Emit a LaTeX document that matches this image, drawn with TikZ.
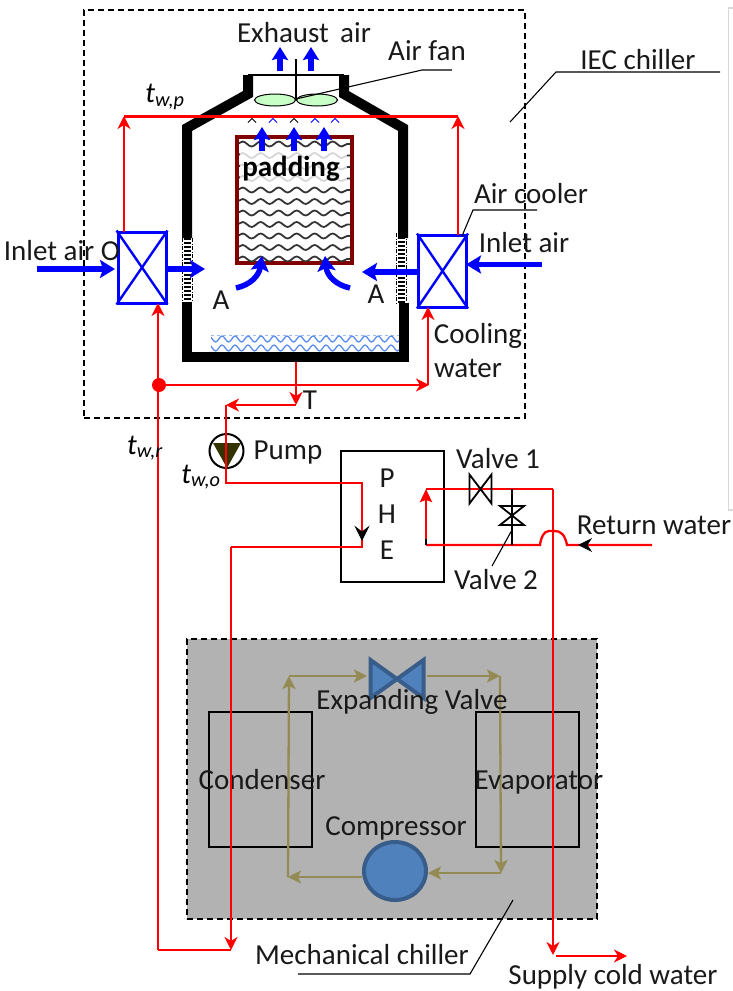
\documentclass[tikz,border=0pt]{standalone}
\usepackage{fontspec}
\setmainfont{Carlito}
\usetikzlibrary{arrows.meta,decorations.pathmorphing,shapes.geometric}
\definecolor{wred}{RGB}{255,0,0}
\definecolor{airblue}{RGB}{0,0,255}
\definecolor{padred}{RGB}{128,0,0}
\definecolor{olive}{RGB}{148,138,84}
\definecolor{chgray}{RGB}{178,178,178}
\definecolor{sblue}{RGB}{79,129,189}
\definecolor{dblue}{RGB}{56,93,138}
\definecolor{wave}{RGB}{90,140,240}
\definecolor{pumpfill}{RGB}{51,51,0}
\tikzset{
 lab/.style={inner sep=0pt,font=\fontsize{29}{31}\selectfont,text=black!90},
 sym/.style={inner sep=0pt,font=\itshape\fontsize{29}{31}\selectfont},
 redline/.style={draw=wred,line width=2.3pt},
 redarrow/.style={redline,-{Stealth[length=13pt,width=13pt,inset=4pt]}},
 airarrow/.style={draw=airblue,line width=5.5pt,-{Stealth[length=15pt,width=18pt,inset=3pt]}},
 smallair/.style={draw=airblue,line width=5.5pt,-{Stealth[length=13pt,width=16pt,inset=2pt]}},
 cooler/.style={draw=airblue,line width=3pt,fill=white,minimum width=48pt,minimum height=71pt,inner sep=0pt},
 wall/.style={draw=black,line width=10pt,line join=miter,line cap=butt},
 cyc/.style={draw=olive,line width=2.3pt,-{Stealth[length=13pt,width=13pt,inset=3pt]}},
 leader/.style={draw=black,line width=1.1pt},
 dashbox/.style={draw=black,line width=1.3pt,dash pattern=on 6pt off 4pt},
 plainbox/.style={draw=black,line width=1.8pt,inner sep=0pt},
 wavy/.style={decorate,decoration={snake,amplitude=2.5pt,segment length=18pt}},
 wavelet/.style={decorate,decoration={snake,amplitude=3pt,segment length=13pt}},
 fanblade/.style={draw=black,fill=green!22,line width=1pt,ellipse,minimum width=41pt,minimum height=12pt,inner sep=0pt},
}
\begin{document}
\begin{tikzpicture}[x=1pt,y=-1pt]
\useasboundingbox (0,0) rectangle (733,991);
\fill[white] (0,0) rectangle (733,991);
% pale frame at right
\draw[black!15,line width=1.5pt] (733,8) -- (728.5,8) -- (728.5,510) -- (733,510);
% mechanical chiller
\node[dashbox,fill=chgray,minimum width=410pt,minimum height=280pt,inner sep=0pt] (mech) at (392,779) {};
\node[plainbox,minimum width=103pt,minimum height=135pt] (cond) at (260.5,779.5) {};
\node[plainbox,minimum width=103pt,minimum height=135pt] (evap) at (527.5,779.5) {};
\coordinate (c1) at (289,676);\coordinate (c2) at (367,676);\coordinate (c3) at (427,676);\coordinate (c4) at (500,676);
\coordinate (c5) at (501,873);\coordinate (c6) at (428,873);\coordinate (c7) at (362,877);\coordinate (c8) at (288,877);
\draw[cyc] (c1)--(c2);\draw[cyc] (c3)--(c4);\draw[cyc] (c4)--(c5);\draw[cyc] (c5)--(c6);\draw[cyc] (c7)--(c8);\draw[cyc] (c8)--(c1);
\draw[draw=dblue,fill=sblue,line width=4pt,line join=miter] (370.5,660)--(423.5,698)--(423.5,660)--(370.5,698)--cycle;
\node[draw=dblue,fill=sblue,line width=4pt,ellipse,minimum width=62pt,minimum height=58pt,inner sep=0pt] (comp) at (395,871) {};
\node[lab] (tcond) at (262,780) {Condenser};
\node[lab] (tevap) at (539,783) {Evaporator};
\node[lab] (tcomp) at (396,828) {Compressor};
\node[lab] (texp) at (412,702) {Expanding Valve};
% IEC box
\node[dashbox,minimum width=441pt,minimum height=408pt,inner sep=0pt] (iec) at (304.5,214) {};
% tower
\draw[wall] (248,75)--(248,94)--(187,128)--(187,238);
\draw[wall] (344,75)--(344,94)--(403,128)--(403,238);
\draw[black,line width=1.2pt] (248,75)--(344,75);
\draw[wall,line join=miter] (187,302)--(187,357)--(404,357)--(404,303);
% louvers
\foreach \xx/\ya/\yb in {187/238/302,401/233/305}{
  \draw[black,line width=7pt,dash pattern=on 2pt off 2pt] (\xx,\ya)--(\xx,\yb);
  \draw[black,line width=.8pt,dash pattern=on 4pt off 1.5pt on 1pt off 1.5pt] (\xx-5,\ya)--(\xx-5,\yb);
  \draw[black,line width=.8pt,dash pattern=on 4pt off 1.5pt on 1pt off 1.5pt] (\xx+5,\ya)--(\xx+5,\yb);
}
% water waves
\begin{scope}
\clip (211,334) rectangle (399,352);
\draw[wave!60,line width=.8pt,dashed] (211,335)--(399,335);
\foreach \yy in {339,348}{
 \draw[wave,line width=1.3pt,wavelet] (205,\yy)--(405,\yy);
}
\end{scope}
% padding
\node[draw=padred,line width=3.5pt,minimum width=115pt,minimum height=126pt,inner sep=0pt,fill=white] (pad) at (294.5,200) {};
\begin{scope}
\clip (239,139) rectangle (350.5,261.5);
\foreach \yy in {144,155.5,167,178.5,190,201.5,213,224.5,236,247.5,259}{
 \draw[black!80,line width=1.8pt,wavy] (237,\yy)--(355,\yy);
}
\end{scope}
\fill[white,opacity=.8] (240,152) rectangle (347,184);
\node[inner sep=0pt,font=\bfseries\fontsize{29}{31}\selectfont] (tpad) at (291,169) {padding};
% fan
\node[fanblade] (fanL) at (275,100) {};
\node[fanblade] (fanR) at (317,100) {};
\draw[black,line width=2pt] (296,59)--(296,101);
\coordinate (fl1) at (296,99);\coordinate (fl2) at (422,70);\coordinate (fl3) at (452,70);
\draw[leader] (fl1)--(fl2)--(fl3);
\draw[smallair] (280,71)--(280,47);\draw[smallair] (311,71)--(311,47);
\foreach \xx in {262,294,324}{\draw[smallair] (\xx,151)--(\xx,127);}
\foreach \xx/\cc in {252/black,273/airblue,294/black,315/airblue,335/airblue}{
  \draw[\cc,line width=1pt] (\xx-4,122.5)--(\xx,118.5)--(\xx+4,122.5);}
% coolers
\node[cooler] (cl) at (142,267.5) {};
\draw[airblue,line width=2.4pt] (cl.north west)--(cl.south east) (cl.north east)--(cl.south west);
\node[cooler,minimum height=72pt] (cr) at (442.5,271) {};
\draw[airblue,line width=2.4pt] (cr.north west)--(cr.south east) (cr.north east)--(cr.south west);
% red upper loop
\coordinate (a1) at (124,116);\coordinate (a2) at (458,116);
\draw[wred,line width=3pt] (a1)--(a2);
\draw[redarrow] (124,232)--(a1);
\draw[redarrow] (458,235)--(a2);
% air
\coordinate (ia1) at (37,269);\coordinate (ia2) at (115,269);
\draw[airarrow] (ia1)--(ia2);
\draw[airarrow] (166,269)--(205,269);
\draw[airarrow] (542,264.5)--(466,264.5);
\draw[airarrow] (419,272)--(362,272);
\draw[airarrow] (236,288) .. controls (250,285) and (259,276) .. (262,256);
\draw[airarrow] (350,288) .. controls (336,285) and (327,276) .. (325,256);
% red lower
\coordinate (dot) at (159,385);
\draw[redarrow] (158,950)--(158,303);
\fill[wred] (dot) circle (7pt);
\coordinate (h1) at (429,385);
\draw[redarrow] (dot)--(h1);
\draw[redarrow] (428,385)--(428,307);
\coordinate (t1) at (296,362);\coordinate (t2) at (296,405);\coordinate (t3) at (226,405);
\draw[redarrow] (t1)--(t2);
\draw[redarrow] (t2)--(t3);
% pump
\node[draw=black,line width=2pt,fill=white,shape=circle,minimum size=34pt,inner sep=0pt] (pump) at (226.5,451) {};
\fill[pumpfill] (213,443)--(241,443)--(227,468)--cycle;
\node[plainbox,minimum width=103pt,minimum height=131pt] (phe) at (392.5,516.5) {};
\coordinate (r1) at (362,483);\coordinate (r2) at (362,547);\coordinate (r3) at (231,547);\coordinate (r5) at (158,950);
\draw[redline] (226,405)--(226,483)--(r1)--(r2)--(r3);
\draw[redarrow] (r3)--(231,950);
\draw[redline] (r5)--(231,950);
\draw[black,line width=.8pt,fill=black] (355.5,527)--(362,540)--(368.5,527)--(362,532)--cycle;
% return
\coordinate (w0) at (652,545);\coordinate (w1) at (567,545);\coordinate (w2) at (426,545);\coordinate (w3) at (426,489);\coordinate (w4) at (553,489);\coordinate (w5) at (553,955);
\draw[redline] (w0)--(w1) .. controls (565,535) and (561,531) .. (555,531) -- (549,531) .. controls (544,531) and (541,537) .. (540,545)--(w2);
\draw[wred,line width=2.6pt,-{Stealth[length=13pt,width=12pt,inset=2pt]}] (w2)--(w3);
\draw[black,line width=1.2pt] (426,539)--(426,545);
\draw[redline] (w3)--(w4);
\draw[redarrow] (w4)--(w5);
\coordinate (s1) at (556,956);\coordinate (s2) at (627,956);
\draw[redarrow] (s1)--(s2);
\draw[black,line width=.8pt,fill=black] (579,545)--(591,539)--(587,545)--(591,551)--cycle;
% valves
\draw[black,line width=1.8pt] (469.5,474.5)--(491.5,503.5)--(491.5,474.5)--(469.5,503.5)--cycle;
\draw[black,line width=1.8pt] (512,489)--(512,545);
\draw[black,line width=1.8pt] (500,506)--(524,525)--(500,525)--(524,506)--cycle;
\coordinate (v1) at (512,530);\coordinate (v2) at (492,566);
\draw[leader] (v1)--(v2);
% leaders
\coordinate (i1) at (510,122);\coordinate (i2) at (556,72);\coordinate (i3) at (720,72);
\draw[leader] (i1)--(i2)--(i3);
\coordinate (ac1) at (462,236);\coordinate (ac2) at (473,210);\coordinate (ac3) at (537,210);
\draw[leader] (ac1)--(ac2)--(ac3);
\coordinate (m1) at (298,974);\coordinate (m2) at (470,974);\coordinate (m3) at (513,900);
\draw[leader] (m1)--(m2)--(m3);
% text
\node[lab] (tex) at (304,33) {Exhaust\, air};
\node[lab] (tfan) at (427,51) {Air fan};
\node[lab] (tiec) at (638,60) {IEC chiller};
\node[lab] (tac) at (531,194) {Air cooler};
\node[lab] (til) at (62,251) {Inlet air O};
\node[lab] (tir) at (524,243) {Inlet air};
\node[lab] (ta1) at (221,300) {A};
\node[lab] (ta2) at (376,294) {A};
\node[lab] (tc1) at (478,336) {Cooling};
\node[lab] (tc2) at (468,368) {water};
\node[lab] (tt) at (310,400) {T};
\node[lab] (tp) at (288,453) {Pump};
\node[lab] (tP) at (387,478) {P};
\node[lab] (tH) at (387,514) {H};
\node[lab] (tE) at (387,550) {E};
\node[lab] (tv1) at (498,459) {Valve 1};
\node[lab] (tv2) at (496,580) {Valve 2};
\node[lab] (trw) at (654,525) {Return water};
\node[lab] (tsc) at (613,977) {Supply cold water};
\node[lab] (tmc) at (362,955) {Mechanical chiller};
\node[sym] (twp) at (165,97) {t\textsubscript{w,p}};
\node[sym] (twr) at (145,448) {t\textsubscript{w,r}};
\node[sym] (two) at (201,477) {t\textsubscript{w,o}};
\end{tikzpicture}
\end{document}
